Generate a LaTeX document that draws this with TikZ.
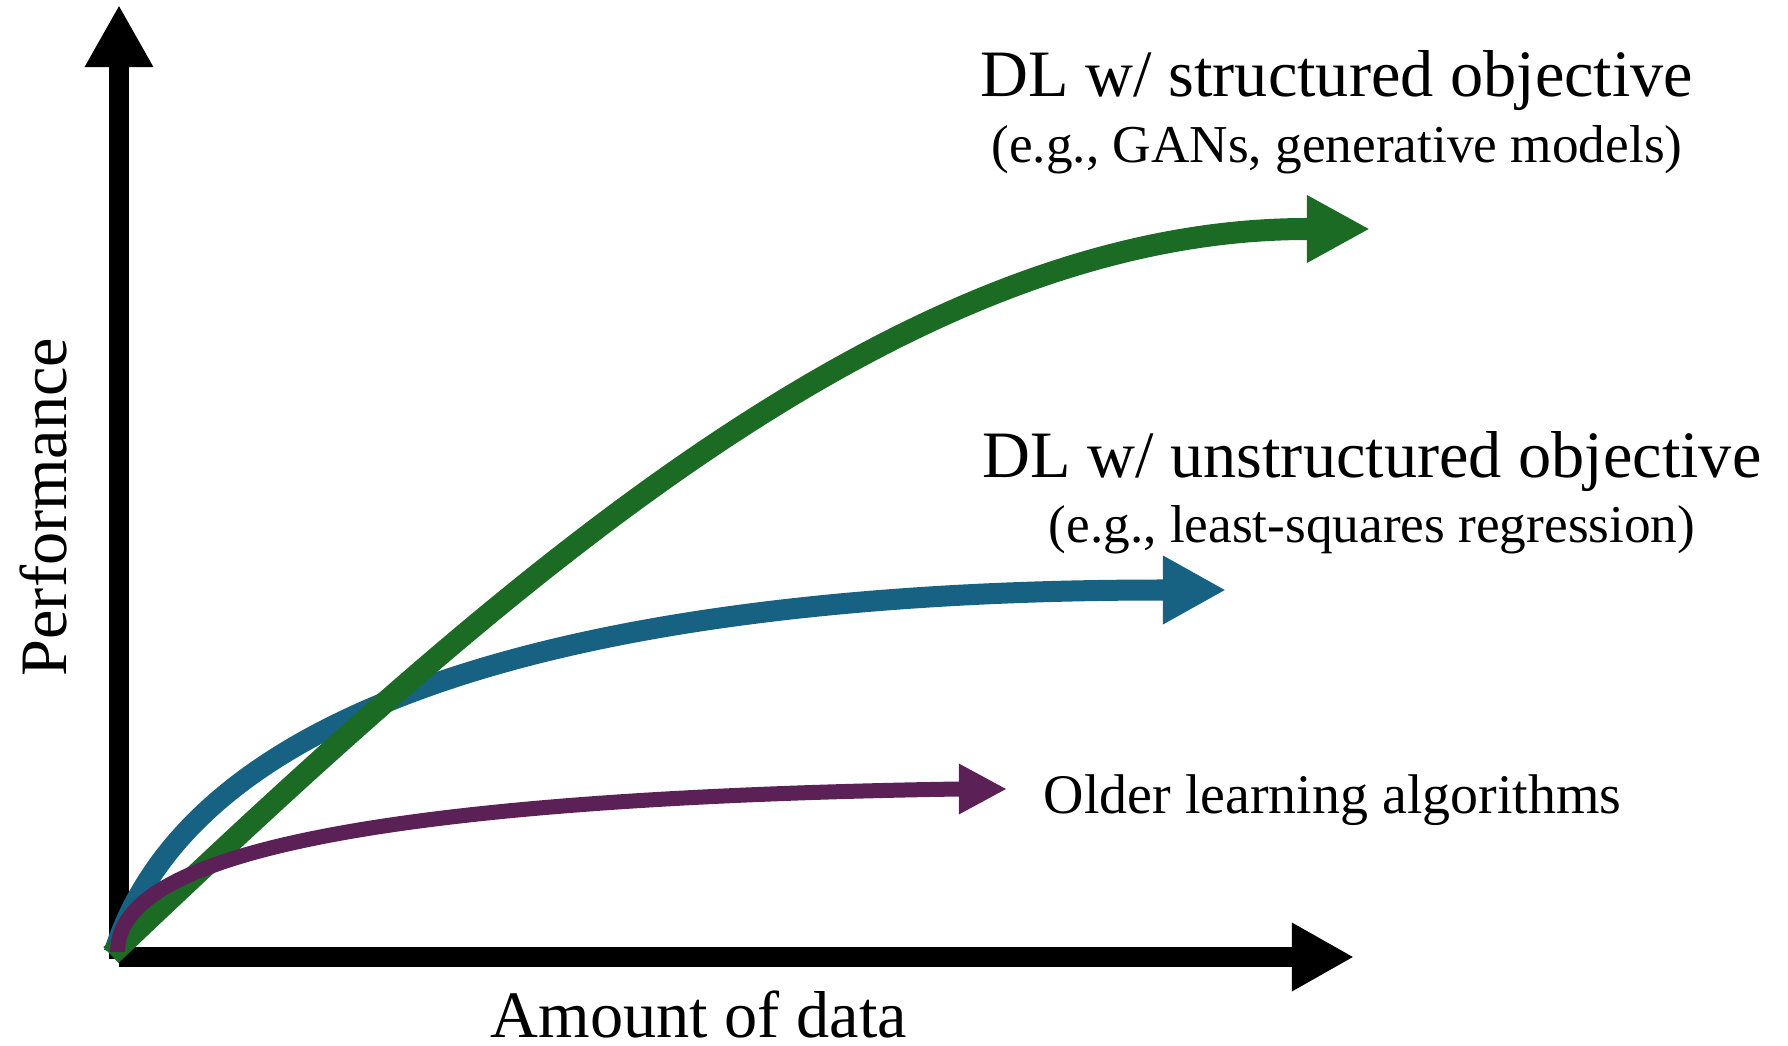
\documentclass[tikz,border=0pt]{standalone}
\usepackage{fontspec}
\setmainfont{Liberation Serif}
\usetikzlibrary{arrows.meta}
\definecolor{cgreen}{RGB}{28,107,36}
\definecolor{cblue}{RGB}{23,97,130}
\definecolor{cpurple}{RGB}{91,32,85}
\tikzset{
  axisline/.style={line width=0.2cm, line cap=butt, -{Triangle[length=0.62cm,width=0.64cm]}},
  greenline/.style={draw=cgreen, line width=0.22cm, -{Triangle[length=0.63cm,width=0.63cm,fill=cgreen]}},
  blueline/.style={draw=cblue, line width=0.21cm, -{Triangle[length=0.63cm,width=0.64cm,fill=cblue]}},
  purpleline/.style={draw=cpurple, line width=0.15cm, -{Triangle[length=0.48cm,width=0.47cm,fill=cpurple]}},
  bigtxt/.style={inner sep=0pt, anchor=base, font=\fontsize{18.85pt}{22pt}\selectfont},
  subtxt/.style={inner sep=0pt, anchor=base, font=\fontsize{15.15pt}{18pt}\selectfont},
  oldtxt/.style={inner sep=0pt, anchor=base west, font=\fontsize{15.9pt}{19pt}\selectfont}
}
\begin{document}
\begin{tikzpicture}[x=0.01cm, y=-0.01cm]
\useasboundingbox (0,0) rectangle (1788,1046);
% axes
\coordinate (yb) at (119,959);
\coordinate (yt) at (119,5);
\coordinate (xl) at (119,957);
\coordinate (xr) at (1354,957);
\draw[axisline] (yb) -- (yt);
\draw[axisline] (xl) -- (xr);
% blue curve
\coordinate (bs) at (114,953);
\coordinate (bc1) at (205,665);
\coordinate (bc2) at (700,590);
\coordinate (bm) at (1163,590);
\coordinate (be) at (1226,590);
\draw[blueline] (bs) .. controls (bc1) and (bc2) .. (bm) -- (be);
% green curve
\coordinate (gs) at (111,955);
\coordinate (gc1) at (505,580);
\coordinate (gc2) at (900,229);
\coordinate (gn) at (1307,229);
\coordinate (ge) at (1370,229);
\draw[greenline] (gs) .. controls (gc1) and (gc2) .. (gn) -- (ge);
% purple curve
\coordinate (ps) at (117.5,952);
\coordinate (pc1) at (117.5,880);
\coordinate (pc2) at (250,800);
\coordinate (pm) at (959,789);
\coordinate (pe) at (1007,789);
\draw[purpleline] (ps) .. controls (pc1) and (pc2) .. (pm) -- (pe);
% labels
\node[bigtxt] (t1) at (1337,97) {DL w/ structured objective};
\node[subtxt] (t2) at (1337,163) {(e.g., GANs, generative models)};
\node[bigtxt] (t3) at (1372,477) {DL w/ unstructured objective};
\node[subtxt] (t4) at (1372,542) {(e.g., least-squares regression)};
\node[oldtxt] (t5) at (1043,813) {Older learning algorithms};
\node[bigtxt] (xlab) at (699,1037) {Amount of data};
\node[bigtxt, rotate=90] (ylab) at (67,507) {Performance};
\end{tikzpicture}
\end{document}
